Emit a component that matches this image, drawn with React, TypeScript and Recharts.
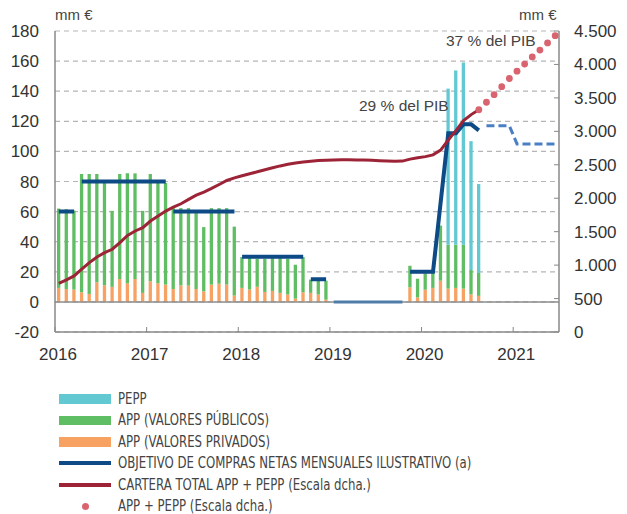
import React from 'react';
import { ComposedChart, Bar, Line, XAxis, YAxis, CartesianGrid, ReferenceLine } from 'recharts';

// months counted from Jan 2016 (0) to Jun 2021 (65)
const yearTicks = [0, 12, 24, 36, 48, 60];
const leftTicks = [-20, 0, 20, 40, 60, 80, 100, 120, 140, 160, 180];
const rightTicks = [0, 500, 1000, 1500, 2000, 2500, 3000, 3500, 4000, 4500];

// APP total purchases (públicos + privados), mm €, Jan 2016 – Aug 2020
const appTotal = [
  62, 61.6, 60.7, 85, 85, 85, 79, 60.5, 85, 85.4, 85.4, 60.5,
  85, 79, 79, 62.3, 62.3, 62.3, 59, 49.7, 62.3, 62.3, 62.3, 50,
  29.8, 29.8, 28.7, 28.7, 31, 31, 28.7, 24.7, 29.8, 14.8, 14.8, 14.1,
  0, 0, 0, 0, 0, 0, 0, 0, 0, 0, 24, 15.4,
  19, 19.6, 50.7, 38, 38, 38, 21.2, 19.2,
];
const appPrivados = [
  9.3, 8.6, 8.2, 6.4, 5.3, 13, 11, 10, 15.2, 12.4, 15.2, 6,
  13.7, 12.4, 11.5, 8.6, 11, 10.8, 8.6, 7, 11.5, 12.1, 11.5, 4.2,
  9.3, 8.2, 10, 6.6, 7.3, 6, 4.9, 2.2, 6.4, 6, 4.9, 1.5,
  0, 0, 0, 0, 0, 0, 0, 0, 0, 0, 9.7, 3,
  8.1, 9.3, 14.1, 8.8, 9.3, 8.8, 5, 4,
];
// PEPP, Apr 2020 – Aug 2020
const peppStart = 51;
const pepp = [103.7, 115.8, 121, 85.6, 59.1];

// monthly net purchase objective, Jan 2016 – Aug 2020
const objetivo = [
  60, 60, 60, 80, 80, 80, 80, 80, 80, 80, 80, 80,
  80, 80, 80, 60, 60, 60, 60, 60, 60, 60, 60, 60,
  30, 30, 30, 30, 30, 30, 30, 30, 30, 15, 15, 15,
  0, 0, 0, 0, 0, 0, 0, 0, 0, 0, 20, 20,
  20, 20, 66, 112, 112, 118, 118, 114,
];
const objetivoTramos = [0, 3, 15, 24, 33, 36, 46];
// illustrative projection, Sep 2020 – Jun 2021
const proyStart = 56;
const objetivoProy = [117, 117, 117, 117, 105, 105, 105, 105, 105, 105];

// total portfolio APP + PEPP (right scale), Jan 2016 – Aug 2020
const cartera = [
  726, 780, 839, 939, 1038, 1122, 1187, 1237, 1336, 1445, 1510, 1560,
  1659, 1733, 1808, 1867, 1917, 1982, 2045, 2091, 2146, 2205, 2265, 2305,
  2335, 2365, 2395, 2425, 2455, 2483, 2508, 2528, 2543, 2553, 2563, 2568,
  2572, 2575, 2575, 2572, 2570, 2568, 2562, 2558, 2552, 2555, 2585, 2605,
  2622, 2648, 2720, 2870, 3010, 3160, 3250, 3323,
];
// projected APP + PEPP (right scale), Aug 2020 – Jun 2021
const puntosStart = 55;
const puntos = [3323, 3435, 3548, 3668, 3790, 3900, 4005, 4112, 4215, 4322, 4430];

const NUM_MONTHS = 66;

const rows = Array.from({ length: NUM_MONTHS }, (_, i) => {
  const row: any = { x: i + 0.5 };
  if (i < appTotal.length && appTotal[i] > 0) {
    row.priv = appPrivados[i];
    row.pub = appTotal[i] - appPrivados[i];
  }
  if (i >= peppStart && i < peppStart + pepp.length) row.pepp = pepp[i - peppStart];
  if (i < objetivo.length) {
    let seg = 0;
    objetivoTramos.forEach((s, k) => { if (i >= s) seg = k; });
    const key = seg === 5 ? 'tZ' : seg % 2 === 0 ? 'tA' : 'tB';
    row[key] = objetivo[i];
  }
  if (i >= proyStart && i < proyStart + objetivoProy.length) row.proy = objetivoProy[i - proyStart];
  if (i < cartera.length) row.cartera = cartera[i];
  if (i >= puntosStart && i < puntosStart + puntos.length) row.puntos = puntos[i - puntosStart];
  return row;
});

const C = {
  pepp: '#62c9d3',
  pub: '#5fbd63',
  priv: '#f7a162',
  target: '#0d4a86',
  zero: '#4f7ca8',
  proy: '#4a7fc4',
  cartera: '#9d2437',
  puntos: '#d9646f',
  axis: '#888',
  text: '#333',
};

const FONT = "'Liberation Sans', Arial, Helvetica, sans-serif";
const NARROW = "'Liberation Sans Narrow', 'Arial Narrow', 'DejaVu Sans Condensed', sans-serif";

const fmtThousands = (v: number) => (v >= 1000 ? `${Math.floor(v / 1000)}.${String(v % 1000).padStart(3, '0')}` : String(v));

const legendItems = [
  { label: 'PEPP', color: C.pepp, kind: 'bar' },
  { label: 'APP (VALORES PÚBLICOS)', color: C.pub, kind: 'bar' },
  { label: 'APP (VALORES PRIVADOS)', color: C.priv, kind: 'bar' },
  { label: 'OBJETIVO DE COMPRAS NETAS MENSUALES ILUSTRATIVO (a)', color: C.target, kind: 'line' },
  { label: 'CARTERA TOTAL APP + PEPP (Escala dcha.)', color: C.cartera, kind: 'line' },
  { label: 'APP + PEPP (Escala dcha.)', color: C.puntos, kind: 'dot' },
];

export default function App() {
  return (
    <div style={{ position: 'absolute', left: 0, top: 0, width: 627, height: 514, background: '#fff', fontFamily: FONT }}>
      <ComposedChart width={627} height={372} data={rows} margin={{ top: 31, right: 0, bottom: 12, left: 0 }}>
        <CartesianGrid yAxisId="left" vertical={false} stroke="#b5b5b5" strokeDasharray="5 4" strokeWidth={1.2} />
        <XAxis
          dataKey="x"
          type="number"
          domain={[0, NUM_MONTHS]}
          ticks={yearTicks}
          allowDataOverflow
          height={28}
          tickFormatter={(v: number) => String(2016 + v / 12)}
          axisLine={{ stroke: C.axis, strokeWidth: 1.5 }}
          tickLine={{ stroke: C.axis }}
          tickSize={-5}
          tickMargin={21}
          tick={{ fill: C.text, fontSize: 17, dx: 3 }}
        />
        <YAxis
          yAxisId="left"
          domain={[-20, 180]}
          ticks={leftTicks}
          width={55}
          axisLine={{ stroke: C.axis, strokeWidth: 1.5 }}
          tickLine={false}
          tickSize={0}
          tickMargin={16}
          tick={{ fill: C.text, fontSize: 17 }}
        />
        <YAxis
          yAxisId="right"
          orientation="right"
          domain={[0, 4500]}
          ticks={rightTicks}
          width={68}
          tickFormatter={fmtThousands}
          axisLine={{ stroke: C.axis, strokeWidth: 1.5 }}
          tickLine={{ stroke: C.axis }}
          tickSize={-5}
          tickMargin={20}
          tick={{ fill: C.text, fontSize: 17 }}
        />
        <ReferenceLine yAxisId="left" y={0} stroke="#8c8c8c" strokeWidth={1.5} />
        <Bar yAxisId="left" dataKey="priv" stackId="s" fill={C.priv} barSize={3.3} isAnimationActive={false} />
        <Bar yAxisId="left" dataKey="pub" stackId="s" fill={C.pub} barSize={3.3} isAnimationActive={false} />
        <Bar yAxisId="left" dataKey="pepp" stackId="s" fill={C.pepp} barSize={3.3} isAnimationActive={false} />
        <Line yAxisId="left" dataKey="tZ" stroke={C.zero} strokeWidth={3} dot={false} activeDot={false} isAnimationActive={false} />
        <Line yAxisId="left" dataKey="tA" stroke={C.target} strokeWidth={4} dot={false} activeDot={false} isAnimationActive={false} />
        <Line yAxisId="left" dataKey="tB" stroke={C.target} strokeWidth={4} dot={false} activeDot={false} isAnimationActive={false} />
        <Line yAxisId="left" dataKey="proy" stroke={C.proy} strokeWidth={3} strokeDasharray="8 4" dot={false} activeDot={false} isAnimationActive={false} />
        <Line yAxisId="right" dataKey="cartera" stroke={C.cartera} strokeWidth={3} dot={false} activeDot={false} isAnimationActive={false} />
        <Line
          yAxisId="right"
          dataKey="puntos"
          stroke="none"
          dot={{ r: 3.4, fill: C.puntos, stroke: 'none' }}
          activeDot={false}
          isAnimationActive={false}
        />
      </ComposedChart>

      <div style={{ position: 'absolute', left: 55, top: 6, fontSize: 15, color: '#444' }}>mm €</div>
      <div style={{ position: 'absolute', left: 519, top: 6, fontSize: 15, color: '#444' }}>mm €</div>
      <div style={{ position: 'absolute', left: 359, top: 97, fontSize: 15.5, color: '#444' }}>29 % del PIB</div>
      <div style={{ position: 'absolute', left: 446, top: 32, fontSize: 15.5, color: '#444' }}>37 % del PIB</div>

      <div style={{ position: 'absolute', left: 59, top: 388 }}>
        {legendItems.map((it) => (
          <div key={it.label} style={{ display: 'flex', alignItems: 'center', height: 21.5 }}>
            <div style={{ width: 52, display: 'flex', justifyContent: 'center', alignItems: 'center' }}>
              {it.kind === 'bar' && <div style={{ width: 52, height: 9.5, background: it.color }} />}
              {it.kind === 'line' && <div style={{ width: 52, height: 4, background: it.color }} />}
              {it.kind === 'dot' && <div style={{ width: 7, height: 7, borderRadius: '50%', background: it.color }} />}
            </div>
            <span
              style={{
                marginLeft: 7,
                fontFamily: NARROW,
                fontSize: 15,
                color: '#444',
                whiteSpace: 'nowrap',
                display: 'inline-block',
                transform: 'scaleX(0.87)',
                transformOrigin: 'left center',
              }}
            >
              {it.label}
            </span>
          </div>
        ))}
      </div>
    </div>
  );
}
